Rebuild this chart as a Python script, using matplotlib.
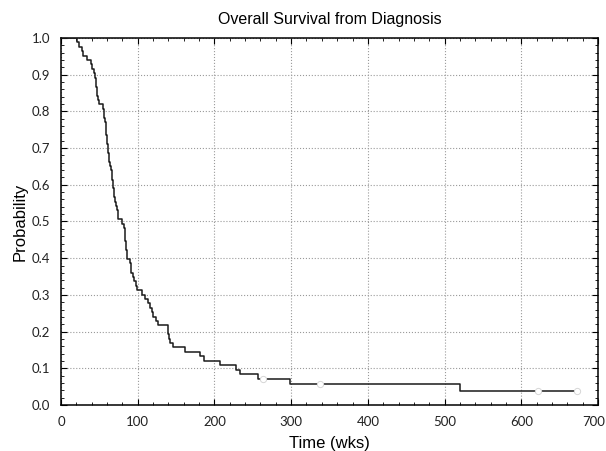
import matplotlib
matplotlib.use("Agg")
import matplotlib.pyplot as plt
from matplotlib.ticker import MultipleLocator, FuncFormatter

# Event (death) times in weeks and survival probability after each event
event_times = [0, 21, 23.5, 27.8, 28.5, 33.5, 39.1, 40.9, 43.5, 44.5, 45, 45.5, 46.5,
               47.5, 48.5, 50, 54.3, 55.5, 56.5, 57.3, 58.2, 58.8, 59.2, 59.5, 60,
               61, 61.6, 62.3, 63, 63.8, 65, 66, 67, 67.6, 68.1, 69, 69.7, 70.3,
               71.5, 72.5, 74, 74.6, 78.9, 82.5, 83.0, 83.4, 83.7, 84.1, 84.5,
               85.8, 86.6, 89.6, 91, 91.7, 94.5, 95.2, 97.4, 99.6, 105.2, 109.5,
               114, 115.9, 118.5, 120.2, 123.3, 125.9, 139, 139.9, 140.8, 141.6,
               146.4, 161.6, 181, 186.3, 207.2, 227.6, 233.7, 257, 299, 520, 672.3]
survival = [1.0, .988, .976, .964, .952, .940, .928, .916, .904, .892, .880, .867, .855,
            .843, .831, .819, .807, .795, .783, .771, .759, .747, .735, .723, .711,
            .699, .687, .675, .663, .651, .639, .627, .614, .602, .590, .578, .566, .554,
            .542, .530, .518, .506, .494, .482, .470, .458, .446, .434, .422,
            .410, .398, .386, .373, .361, .349, .337, .325, .313, .301, .289,
            .277, .265, .253, .241, .229, .217, .205, .193, .181, .169,
            .157, .145, .133, .120, .108, .096, .084, .072, .058, .039, .039]

# Censored observations
censor_times = [263, 338, 621.5, 672.3]
censor_surv = [.072, .058, .039, .039]

x_max = 700
title = "Overall Survival from Diagnosis"
xlabel = "Time (wks)"
ylabel = "Probability"

plt.rcParams['font.family'] = ['Liberation Sans', 'DejaVu Sans']

fig = plt.figure(figsize=(6.06, 4.51), dpi=100)
ax = fig.add_axes([61/606, 46/451, 537/606, 367/451])

ax.step(event_times, survival, where='post', color='#1a1a1a', lw=1.1, zorder=3)
ax.plot(censor_times, censor_surv, ls='none', marker='o', ms=4.5,
        mfc='white', mec='#d6d6d6', mew=0.7, zorder=4)

ax.set_xlim(0, x_max)
ax.set_ylim(0, 1.0)
ax.xaxis.set_major_locator(MultipleLocator(100))
ax.xaxis.set_minor_locator(MultipleLocator(20))
ax.yaxis.set_major_locator(MultipleLocator(0.1))
ax.yaxis.set_minor_locator(MultipleLocator(0.02))
ax.yaxis.set_major_formatter(FuncFormatter(lambda v, p: f"{v:.1f}"))
# last x label drawn separately so it stays inside the figure
ax.xaxis.set_major_formatter(FuncFormatter(lambda v, p: "" if v >= x_max else f"{v:.0f}"))

ax.tick_params(which='both', direction='in', top=True, right=True,
               labelsize=9.5, colors='black', labelcolor='#222222')
ax.tick_params(which='major', length=4, width=0.8)
ax.tick_params(which='minor', length=2.5, width=0.6)
ax.tick_params(axis='y', which='major', pad=8)
ax.tick_params(axis='x', which='major', pad=8)
for lab in ax.get_xticklabels() + ax.get_yticklabels():
    lab.set_family(['Lato', 'DejaVu Sans'])

ax.annotate(f"{x_max}", xy=(x_max, 0), xycoords='data',
            xytext=(-3, -8), textcoords='offset points',
            ha='center', va='top', fontsize=9.5, color='#222222',
            family=['Lato', 'DejaVu Sans'], annotation_clip=False)

ax.grid(True, which='major', ls=':', color='#9a9a9a', lw=0.8)
for s in ax.spines.values():
    s.set_linewidth(1.1)
    s.set_color('black')

ax.set_title(title, fontsize=11.5, pad=10)
ax.set_xlabel(xlabel, fontsize=12, labelpad=6)
ax.set_ylabel(ylabel, fontsize=12, labelpad=3)

fig.savefig("out.png", dpi=100)
